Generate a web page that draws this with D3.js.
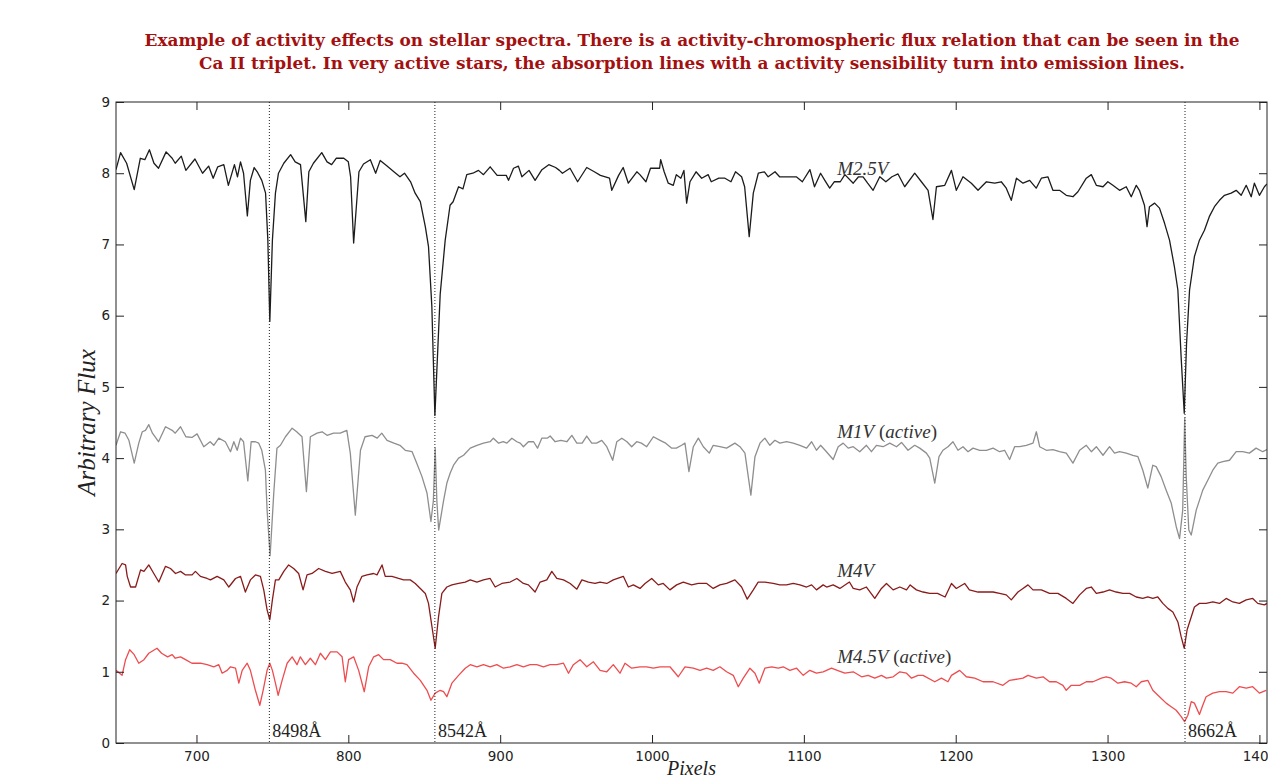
<!DOCTYPE html>
<html>
<head>
<meta charset="utf-8">
<script src="https://cdn.jsdelivr.net/npm/d3@7"></script>
<style>
  body { margin: 0; background: #fff; }
  svg { display: block; }
</style>
</head>
<body>
<div id="chart"></div>
<script>
// ---------------- data ----------------
const title1 = "Example of activity effects on stellar spectra. There is a activity-chromospheric flux relation that can be seen in the";
const title2 = "Ca II triplet. In very active stars, the absorption lines with a activity sensibility turn into emission lines.";

const xTicks = [700, 800, 900, 1000, 1100, 1200, 1300, 1400];
const yTicks = [0, 1, 2, 3, 4, 5, 6, 7, 8, 9];

// Ca II triplet positions (pixels) and their wavelengths
const caLines = [748, 857, 1351];
const caNames = ["8498Å", "8542Å", "8662Å"];

// M2.5V (black)
const m25Px = [647,650,654,659,663,666,669,672,675,680,684,686,690,693,699,704,708,711,714,718,721,725,727,729,731,733.5,735.5,738,740,743,745.5,747,748.3,750,752,754,757.5,762,765,768.5,772,774,777,782.5,786,789,792,797,800,801.5,803.5,807,810,814.5,818,821,825.5,830,834,837,841,844,847.4,850.7,852.8,855,857,860.5,863.8,867,869,872.6,875.5,878,
  882,885.7,889,893.4,898,904,905.5,908.8,912,914.3,919,923,927.5,932,936.5,939,941,946,951,957,962,966,972,973.5,978,981,984.4,990,992,996,999,1005,1005.7,1008,1010.7,1014,1016,1019,1021,1022.8,1025,1029,1032.7,1037,1039,1044,1048,1052,1055,1059,1061,1064,1066.7,1070,1074,1076.5,1081,1084,1090,1095,1099,1104,1107,
  1111,1113.8,1117,1120,1124,1127,1132.5,1136,1139,1142,1145.6,1150,1154,1158,1162,1166.4,1173,1177.4,1181.8,1185,1187.3,1192.8,1197.2,1200.4,1204.8,1210.3,1214.7,1220.2,1225.7,1230,1233.3,1236.6,1240,1244.3,1248.7,1253,1256.4,1260.7,1264,1268.4,1272.8,1277.2,1280.5,1286,1289.3,1292.6,1297,1300.2,1303.5,1307.9,1312.3,1315.6,1318.9,1321,1324.3,1326,1327.6,1331,1334.2,1337.5,1340.8,1344,1346.3,1348.5,1350.5,1352,1354,1357.2,1360.5,1363.8,1367,1370.4,1373.7,1377,1381.4,1384.7,1388,1391.3,1394.6,1396.7,1400,1403.3,1405];
const m25Flux = [8.05,8.29,8.14,7.77,8.21,8.19,8.33,8.14,8.07,8.30,8.21,8.14,8.24,8.04,8.20,8.00,8.10,7.93,8.09,8.12,7.83,8.12,7.95,8.16,8.00,7.40,7.90,8.08,8.02,7.90,7.72,7.06,5.92,7.06,7.72,8.00,8.14,8.26,8.16,8.12,7.32,8.02,8.14,8.29,8.16,8.12,8.21,8.21,8.16,7.95,7.02,8.02,8.13,8.19,8.00,8.18,8.10,8.02,7.95,8.00,7.88,7.72,7.60,7.25,6.97,6.13,4.60,6.30,7.06,7.55,7.60,7.81,7.78,7.98,
  8.00,8.04,7.98,8.09,7.97,7.97,7.90,8.07,8.10,7.95,8.04,7.90,8.05,8.12,8.08,8.04,8.00,8.07,7.88,8.08,8.02,7.97,7.93,7.76,7.97,8.08,7.86,8.02,7.98,7.88,8.07,8.07,8.19,8.02,7.86,7.83,7.98,7.93,8.04,7.58,7.88,8.02,7.93,7.98,7.88,7.93,7.93,7.88,8.02,7.95,7.81,7.11,7.72,8.00,8.02,7.95,8.02,7.95,7.95,7.95,7.88,8.05,7.81,
  8.00,7.90,7.79,7.88,7.88,7.98,7.86,7.95,7.95,7.86,7.76,7.95,7.88,7.95,7.99,7.81,8.00,7.88,7.76,7.35,7.81,7.83,8.04,7.76,7.95,7.86,7.76,7.88,7.86,7.88,7.79,7.62,7.93,7.86,7.90,7.79,7.93,7.95,7.76,7.76,7.69,7.67,7.74,7.93,7.98,7.83,7.81,7.88,7.83,7.76,7.81,7.67,7.83,7.76,7.55,7.25,7.53,7.58,7.51,7.30,7.06,6.69,6.36,5.40,4.63,5.60,6.36,6.83,7.06,7.20,7.39,7.53,7.62,7.69,7.72,7.76,7.69,7.83,7.67,7.86,7.69,7.81,7.85];

// M1V active (grey)
const m1Px = [647,650,653,655.5,659,662,664.3,666.4,668.6,671,675,679.6,684,686,689.5,693,697,700.4,704.8,709,711.4,714.7,719,722.4,724.6,726.8,729,731,733.8,736,738.8,741,743,745.4,746.5,748.5,750.9,753,755.3,758.6,763,766,769.5,772.4,775,779.4,782.7,786,790.3,794.7,799,801.3,804.6,808,811,815.6,819,822,825.5,830,834,837.5,842,845,848.5,851.8,854.4,856,857.2,858.3,859.5,862.7,864.9,867.1,869.3,872.6,875.9,880.3,884.7,889,893.4,895.5,899,902,904.4,907.7,911,913.2,915.3,918.6,922,924.6,927.4,931,932.9,936.2,940,943.9,947.2,950.5,954,957,960.3,963.5,966.9,970.2,974.1,976.8,980.1,983.5,986.6,989.9,993,996.5,1000.9,1005.3,1009,1013,1016,1019.5,1021.7,1024.3,1027.2,1030.5,1033.8,1037.7,1040.3,1044.7,1049.1,1054.6,1057.9,1061.2,1065.1,1067.8,1071.1,1074.3,1077.6,1080.9,1084.2,1088.6,1093,1097.4,1101.8,1105.1,1108.3,
  1111,1114,1119.3,1122.6,1125.9,1129.2,1132.5,1136.8,1141.2,1144.5,1147.8,1152.2,1156.6,1161,1164.3,1168.6,1173,1176.3,1180.7,1182.9,1186.2,1189,1191.6,1194.9,1198.2,1201.5,1204.8,1208.1,1211.4,1215.8,1220.2,1224.6,1228.9,1232.2,1235.5,1238.8,1242.1,1246.5,1250.9,1253.1,1255.3,1259.7,1264,1268.4,1272.8,1277.2,1281.6,1286,1289.3,1292.6,1297,1301.3,1304.6,1307.9,1312.3,1316.7,1320,1323.2,1326.5,1329.8,1332,1335.3,1338.6,1341.9,1345.2,1347.4,1349.5,1350.8,1351.8,1353.5,1355.1,1358.4,1362.7,1366,1369.3,1372.6,1375.9,1380.3,1384.7,1389,1393.4,1397.8,1402.2,1405];
const m1Flux = [4.18,4.37,4.35,4.25,3.93,4.21,4.37,4.39,4.47,4.35,4.23,4.44,4.39,4.35,4.44,4.30,4.29,4.34,4.16,4.23,4.18,4.28,4.23,4.09,4.23,4.11,4.28,4.23,3.68,4.23,4.23,4.21,4.11,3.83,3.27,2.63,3.51,4.14,4.18,4.30,4.42,4.37,4.30,3.53,4.30,4.35,4.37,4.32,4.35,4.35,4.39,4.07,3.20,4.11,4.30,4.32,4.28,4.35,4.25,4.21,4.18,4.11,4.09,3.93,3.74,3.51,3.11,3.40,4.14,3.40,2.99,3.40,3.65,3.79,3.90,4.00,4.04,4.14,4.18,4.21,4.23,4.28,4.21,4.23,4.21,4.28,4.23,4.21,4.16,4.23,4.23,4.14,4.28,4.28,4.31,4.23,4.25,4.23,4.32,4.21,4.21,4.31,4.21,4.21,4.25,4.16,3.97,4.23,4.28,4.23,4.16,4.23,4.21,4.16,4.30,4.25,4.21,4.14,4.14,4.18,4.21,3.81,4.16,4.28,4.16,4.07,4.18,4.16,4.14,4.21,4.16,4.07,3.48,4.02,4.21,4.28,4.18,4.25,4.21,4.23,4.21,4.18,4.14,4.23,4.11,
  4.18,4.11,3.98,4.16,4.21,4.14,4.16,4.09,4.18,4.09,4.18,4.16,4.21,4.16,4.22,4.11,4.18,4.14,4.07,4.00,3.65,4.02,4.11,4.16,4.23,4.11,4.16,4.09,4.14,4.11,4.11,4.14,4.09,4.11,3.98,4.16,4.16,4.18,4.21,4.37,4.16,4.11,4.12,4.09,4.07,3.93,4.11,4.18,4.09,4.16,4.04,4.16,4.07,4.09,4.07,4.04,4.02,3.83,3.58,3.90,3.88,3.74,3.55,3.37,3.04,2.87,3.27,4.56,3.74,2.99,2.92,3.27,3.55,3.69,3.83,3.93,3.95,3.97,4.09,4.09,4.07,4.14,4.09,4.12];

// M4V (dark red)
const m4Px = [647,651,653.3,654.4,656.6,659.9,663.2,665.4,668.6,671.9,675.2,679.6,682.9,686.2,689.5,692.8,697.1,699.3,702.6,707,709.2,713.6,718,721.3,725.7,729,732.2,735.5,738.8,742.1,744.3,746.5,748.3,750,752,754.2,757.5,760.7,764,767.3,770.2,772.8,776.1,780.5,784.9,789.3,794.7,798,801.3,803.5,805.7,809,812.3,816.7,818.9,822.2,824.3,828.7,833.1,836.4,840.8,844.1,847.4,850.7,852.8,855.1,857.2,859.4,861.6,864.9,868.2,872.6,877,880.3,884.7,889,893.4,896.7,901.1,906.6,911,915.3,918.6,923,926.3,930.7,934,937.3,941.7,946.1,950.5,953.8,958.1,962.5,965.8,970.2,974.5,981.1,984.4,987.7,992.1,995.4,999.8,1004.1,1007.4,1011.8,1016.2,1020.6,1026.1,1030.5,1036,1040.3,1044.7,1049.1,1054.6,1059,1062.7,1066.7,1069.9,1074.3,1079.8,1084.2,1088.6,1093,1097.4,1101.8,1105.1,1108.3,
  1112.7,1115,1119.3,1123.7,1130,1132.5,1136.8,1141.2,1146.7,1151.1,1154.4,1158.8,1163.2,1167.6,1170,1174.1,1178.5,1182.9,1188,1193,1197.2,1200.4,1205.9,1209,1214.7,1220.2,1224.6,1228.9,1233.3,1236.6,1241,1244.3,1247.6,1250.9,1256.4,1261.8,1267.3,1272.8,1277.2,1281.6,1286,1289.3,1292.6,1297,1301.3,1305.7,1310.1,1314.5,1318.9,1323.2,1326.5,1329.8,1333.1,1336.4,1339.7,1343,1346.3,1348.5,1350.5,1352.4,1355.1,1357.2,1360.5,1364.9,1369.3,1373.7,1378.1,1382.5,1386.8,1391.3,1395.6,1398.9,1403.3,1405];
const m4Flux = [2.38,2.52,2.50,2.34,2.19,2.19,2.43,2.41,2.50,2.38,2.26,2.48,2.45,2.38,2.41,2.36,2.36,2.41,2.34,2.31,2.29,2.34,2.29,2.19,2.31,2.34,2.12,2.29,2.36,2.34,2.15,1.87,1.73,2.01,2.29,2.29,2.41,2.50,2.45,2.38,2.15,2.36,2.38,2.45,2.41,2.38,2.41,2.26,2.15,1.98,2.19,2.34,2.36,2.38,2.36,2.50,2.34,2.34,2.31,2.29,2.29,2.24,2.17,2.10,1.96,1.63,1.33,1.77,2.10,2.19,2.22,2.24,2.26,2.29,2.26,2.29,2.31,2.19,2.24,2.26,2.31,2.24,2.22,2.12,2.26,2.29,2.41,2.31,2.29,2.24,2.16,2.29,2.26,2.24,2.26,2.24,2.29,2.34,2.19,2.22,2.17,2.24,2.31,2.22,2.24,2.15,2.22,2.26,2.22,2.24,2.24,2.17,2.22,2.24,2.29,2.19,2.02,2.15,2.26,2.26,2.24,2.22,2.22,2.24,2.22,2.19,2.22,2.15,
  2.22,2.19,2.22,2.17,2.26,2.17,2.15,2.19,2.03,2.17,2.24,2.15,2.19,2.15,2.22,2.15,2.12,2.10,2.10,2.05,2.24,2.17,2.24,2.15,2.12,2.12,2.12,2.10,2.08,2.01,2.12,2.17,2.22,2.15,2.15,2.10,2.10,2.03,1.96,2.08,2.17,2.19,2.10,2.12,2.15,2.12,2.10,2.10,2.05,2.03,2.05,2.03,2.05,1.96,1.89,1.84,1.70,1.49,1.33,1.59,1.77,1.91,1.96,1.96,1.98,1.96,2.03,1.98,1.96,2.01,2.03,1.96,1.94,1.96];

// M4.5V active (light red)
const m45Px = [647,651,653.3,656,659,662,665.4,668.6,674,677,681,684,686,689.5,692.8,697,702.6,707,711.4,714.7,716.9,720.2,722.4,725.7,727.9,730.1,733.4,735.5,738.8,741.7,743.9,746.5,748.3,750,752,753.8,756.4,759.7,763,766.2,768.4,771.7,775,778.3,781.6,784.9,788.2,792.6,795.9,798,800.2,803.5,806.8,810.5,813.4,816.7,820,823.2,827.6,832,835.3,838.6,843,847.4,851.8,854.4,857.2,860.5,862.7,864.9,868.2,872.6,877,880.3,884.7,889,893.4,897.8,902.2,906.6,911,915.3,919.7,924.1,928.5,932.9,937.3,941.7,945,948.2,952.6,957,961.4,965.8,970.2,974.5,978.9,982.2,986.6,992.1,996.5,1000.9,1005.3,1011.8,1017.3,1021.7,1027.2,1031.6,1036,1040.3,1044.7,1049.1,1053.5,1056.8,1060.1,1064.5,1067.8,1070.6,1074.3,1078.8,1083.1,1086.4,1090.8,1095.2,1099.6,1103.9,1108.3,1112.7,1118.2,1122,
  1127,1132.5,1138,1142.3,1146.7,1151.1,1154.4,1158.8,1163.2,1167.6,1170.9,1175.2,1178.5,1186.2,1190.6,1194.9,1197.2,1202.6,1207,1212.5,1218,1224.6,1231.1,1235.5,1244.3,1247.6,1253.1,1257.5,1261.8,1266.2,1270.6,1272.8,1276.1,1281.6,1286,1290.4,1295.9,1299.1,1302.4,1306.8,1311.2,1315.6,1318.9,1322.2,1326.5,1329.8,1334.2,1338.6,1341.9,1345.2,1348.5,1350.7,1352.9,1355.1,1357.2,1360.5,1362.7,1364.9,1369.3,1373.7,1378.1,1382.5,1386.8,1391.3,1395.6,1400,1404.4];
const m45Flux = [1.02,0.95,1.17,1.31,1.24,1.12,1.17,1.26,1.33,1.26,1.21,1.24,1.19,1.21,1.17,1.12,1.12,1.10,1.07,1.10,0.98,1.02,1.07,1.05,0.84,1.02,1.12,1.02,0.74,0.53,0.74,1.02,1.12,1.02,0.84,0.67,0.88,1.12,1.21,1.10,1.21,1.10,1.19,1.10,1.26,1.17,1.28,1.28,1.21,0.86,1.17,1.21,1.02,0.72,1.07,1.21,1.24,1.17,1.17,1.12,1.12,1.10,0.98,0.88,0.74,0.60,0.70,0.74,0.72,0.65,0.84,0.95,1.05,1.10,1.07,1.10,1.07,1.10,1.05,1.07,1.10,1.07,1.10,1.10,1.07,1.10,1.10,1.12,0.98,1.10,1.17,1.07,1.14,1.02,1.00,1.10,0.98,1.12,1.05,1.07,1.07,1.05,1.07,1.07,0.93,1.07,1.05,1.02,1.05,1.02,1.07,1.00,0.95,0.79,0.91,1.05,0.98,0.84,1.05,1.07,1.05,1.07,1.02,1.05,0.95,1.02,0.98,1.00,1.05,1.02,
  0.98,1.00,0.93,0.95,0.91,0.95,0.91,0.93,1.00,0.98,0.91,0.95,0.95,0.86,0.91,0.86,0.95,1.02,0.93,0.91,0.86,0.86,0.81,0.88,0.91,0.95,0.91,0.93,0.86,0.86,0.81,0.74,0.81,0.81,0.86,0.86,0.91,0.93,0.91,0.84,0.86,0.84,0.79,0.86,0.88,0.74,0.65,0.56,0.51,0.46,0.37,0.30,0.39,0.58,0.56,0.40,0.53,0.65,0.70,0.72,0.72,0.70,0.79,0.77,0.79,0.70,0.74];

const seriesNames = ["M2.5V", "M1V", "M4V", "M4.5V"];
const seriesColors = ["#1c1c1c", "#8e8e8e", "#8a1b1b", "#ee4c4f"];
const activeFlags = [false, true, false, true];
// where each series name is written (pixel, flux)
const labelPixel = [1122, 1122, 1122, 1122];
const labelFlux = [7.98, 4.28, 2.33, 1.12];

// ---------------- layout ----------------
const width = 1268, height = 782;
const plot = { left: 116, right: 1267, top: 102, bottom: 743 };

const svg = d3.select("#chart").append("svg")
  .attr("width", width)
  .attr("height", height);

// title, two centred lines
const titleLines = [title1, title2];
const titleWidths = [1095, 986];
svg.selectAll("text.title")
  .data(titleLines)
  .enter()
  .append("text")
  .attr("class", "title")
  .attr("x", 692)
  .attr("y", (d, i) => 46 + i * 23)
  .attr("text-anchor", "middle")
  .attr("textLength", (d, i) => titleWidths[i])
  .attr("lengthAdjust", "spacingAndGlyphs")
  .style("font-family", "'DejaVu Serif', serif")
  .style("font-weight", "bold")
  .style("font-size", "17px")
  .style("fill", "#a3100f")
  .text(d => d);

// scales
const x = d3.scaleLinear().domain([647, 1405]).range([plot.left, plot.right]);
const y = d3.scaleLinear().domain([0, 9]).range([plot.bottom, plot.top]);

const g = svg.append("g");

svg.append("defs").append("clipPath")
  .attr("id", "plotclip")
  .append("rect")
  .attr("x", plot.left).attr("y", plot.top)
  .attr("width", plot.right - plot.left)
  .attr("height", plot.bottom - plot.top);

// spectra
const seriesPx = [m25Px, m1Px, m4Px, m45Px];
const seriesFlux = [m25Flux, m1Flux, m4Flux, m45Flux];

const line = d3.line()
  .x(d => x(d[0]))
  .y(d => y(d[1]));

const spectra = g.append("g").attr("clip-path", "url(#plotclip)");
seriesNames.forEach(function(name, i) {
  const pts = seriesPx[i].map((p, k) => [p, seriesFlux[i][k]]);
  spectra.append("path")
    .datum(pts)
    .attr("d", line)
    .style("fill", "none")
    .style("stroke", seriesColors[i])
    .style("stroke-width", 1.3)
    .style("stroke-linejoin", "round");
});

// dotted Ca II lines
g.selectAll("line.ca")
  .data(caLines)
  .enter()
  .append("line")
  .attr("class", "ca")
  .attr("x1", d => x(d)).attr("x2", d => x(d))
  .attr("y1", plot.top).attr("y2", plot.bottom)
  .style("stroke", "#222")
  .style("stroke-width", 1)
  .style("stroke-dasharray", "1,2");

g.selectAll("text.ca")
  .data(caLines)
  .enter()
  .append("text")
  .attr("class", "ca")
  .attr("x", d => x(d) + 3)
  .attr("y", plot.bottom - 6)
  .style("font-family", "'Liberation Serif', serif")
  .style("font-size", "18px")
  .style("fill", "#222")
  .text((d, i) => caNames[i]);

// series names
seriesNames.forEach(function(name, i) {
  const t = g.append("text")
    .attr("x", x(labelPixel[i]))
    .attr("y", y(labelFlux[i]))
    .style("font-family", "'Liberation Serif', serif")
    .style("font-size", "19px")
    .style("fill", "#333");
  t.append("tspan").style("font-style", "italic").text(name);
  if (activeFlags[i]) {
    t.append("tspan").text(" (");
    t.append("tspan").style("font-style", "italic").text("active");
    t.append("tspan").text(")");
  }
});

// frame
g.append("rect")
  .attr("x", plot.left).attr("y", plot.top)
  .attr("width", plot.right - plot.left)
  .attr("height", plot.bottom - plot.top)
  .style("fill", "none")
  .style("stroke", "#222")
  .style("stroke-width", 1);

// axes with inward ticks
const fmt = d3.format("d");
const xAxis = g.append("g")
  .attr("transform", `translate(0,${plot.bottom})`)
  .call(d3.axisBottom(x).tickValues(xTicks).tickFormat(fmt).tickSizeInner(-8).tickSizeOuter(0).tickPadding(8));
const xTop = g.append("g")
  .attr("transform", `translate(0,${plot.top})`)
  .call(d3.axisTop(x).tickValues(xTicks).tickSizeInner(-8).tickSizeOuter(0).tickFormat(""));
const yAxis = g.append("g")
  .attr("transform", `translate(${plot.left},0)`)
  .call(d3.axisLeft(y).tickValues(yTicks).tickFormat(fmt).tickSizeInner(-8).tickSizeOuter(0).tickPadding(6));
const yRight = g.append("g")
  .attr("transform", `translate(${plot.right},0)`)
  .call(d3.axisRight(y).tickValues(yTicks).tickSizeInner(-8).tickSizeOuter(0).tickFormat(""));

[xAxis, xTop, yAxis, yRight].forEach(function(a) {
  a.select(".domain").remove();
  a.selectAll(".tick line").style("stroke", "#222");
  a.selectAll("text")
    .style("font-family", "'DejaVu Sans', sans-serif")
    .style("font-size", "13.5px")
    .style("fill", "#222");
});

// axis titles
svg.append("text")
  .attr("transform", `translate(95, ${(plot.top + plot.bottom) / 2}) rotate(-90)`)
  .attr("text-anchor", "middle")
  .style("font-family", "'Liberation Serif', serif")
  .style("font-style", "italic")
  .style("font-size", "25px")
  .style("fill", "#222")
  .text("Arbitrary Flux");

svg.append("text")
  .attr("x", (plot.left + plot.right) / 2)
  .attr("y", 775)
  .attr("text-anchor", "middle")
  .style("font-family", "'Liberation Serif', serif")
  .style("font-style", "italic")
  .style("font-size", "20px")
  .style("fill", "#222")
  .text("Pixels");
</script>
</body>
</html>
